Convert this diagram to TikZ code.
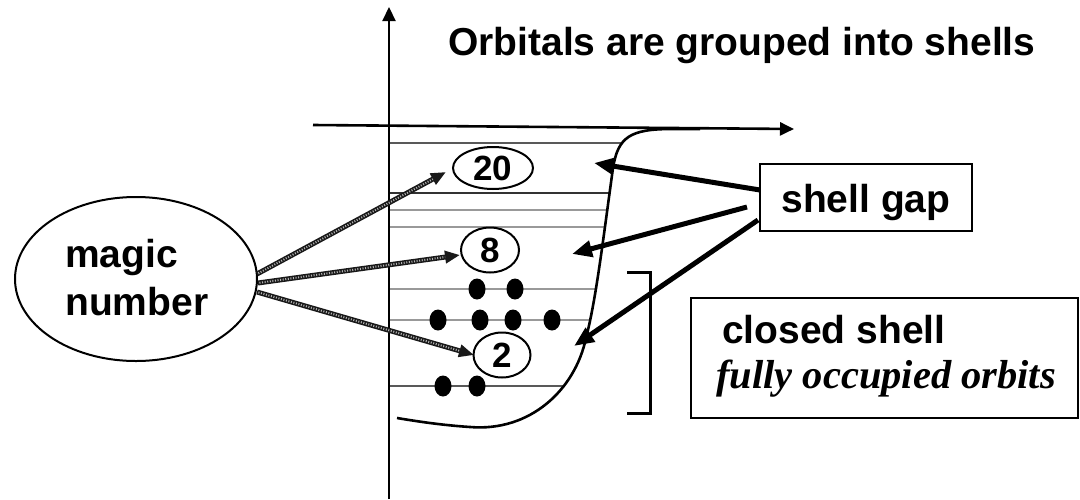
\documentclass[tikz,border=0pt]{standalone}
\usepackage{fontspec}
\setmainfont{Liberation Sans}
\newfontfamily\serifbi{Liberation Serif}
\usetikzlibrary{arrows.meta,shapes.geometric,calc}

\begin{document}
\begin{tikzpicture}[x=1pt,y=-1pt,
  lbl/.style={font=\fontsize{39}{48}\selectfont\bfseries, inner sep=0pt},
  numell/.style={ellipse, draw, line width=2pt, inner sep=0pt,
    font=\fontsize{35}{40}\selectfont\bfseries},
  dot/.style={fill=black},
  orbit/.style={draw=black!65, line width=1.6pt},
  orbitlight/.style={draw=black!40, line width=2.4pt},
  axis/.style={line width=2.2pt, -{Triangle[length=14pt,width=13pt]}},
  hatch/.style={line width=5pt, draw=black!90,
    -{Triangle[length=15pt,width=12pt]},
    postaction={draw=white!70!black, line width=2pt, dash pattern=on 1pt off 1.6pt,
      -, shorten >=15pt, shorten <=1.5pt}},
  gaparrow/.style={line width=5pt, -{Triangle[length=20pt,width=16pt]}},
  box/.style={draw, line width=1.6pt, inner sep=0pt}
]
\useasboundingbox (0,0) rectangle (1080,499);

% axes
\coordinate (ybot) at (389,499);
\coordinate (ytop) at (389,7);
\coordinate (xleft) at (313,125);
\coordinate (xright) at (794,129);
\draw[axis] (ybot) -- (ytop);
\draw[axis, line width=2.6pt] (xleft) -- (xright);

% potential well
\def\wellpath{(700,129) -- (672,129) .. controls (630,129) and (618,137) .. (613,168)
  .. controls (603,240) and (596,300) .. (586,338)
  .. controls (575,390) and (530,432) .. (470,427)
  .. controls (440,425) and (415,421) .. (397,418)}

% orbitals, clipped to the inside of the well
\begin{scope}
  \clip (389,129) -- \wellpath -- (389,440) -- cycle;
  \foreach \y in {143,386} \draw[orbit] (390,\y) -- (720,\y);
  \draw[orbit, draw=black!80] (390,193) -- (720,193);
  \foreach \y in {210,227,289,320} \draw[orbitlight] (390,\y) -- (720,\y);
\end{scope}
\draw[line width=2.6pt] \wellpath;

% occupied orbits
\foreach \x/\y in {477/289,515/289,438/320,480/320,513/320,552/320,443/386,477/386}
  \fill[dot] (\x,\y) ellipse [x radius=8.5, y radius=10.5];

% magic numbers
\node[numell, minimum width=80pt, minimum height=42pt] (n20) at (493,168) {20};
\node[numell, minimum width=58pt, minimum height=45pt] (n8) at (490,250) {8};
\node[numell, minimum width=57pt, minimum height=45pt] (n2) at (502,355) {2};

% bracket of the closed shell
\coordinate (bra) at (627,272);
\coordinate (brb) at (650,272);
\coordinate (brc) at (650,413);
\coordinate (brd) at (627,413);
\draw[line width=3pt] (bra) -- (brb) -- (brc) -- (brd);

% title
\node[lbl, anchor=base west] (title) at (448,55) {Orbitals are grouped into shells};

% magic number label
\node[ellipse, draw, line width=2pt, minimum width=242pt, minimum height=164pt,
  inner sep=0pt] (magic) at (136,279) {};
\node[lbl, align=left, anchor=base west] (magictxt) at (65,315) {magic\\number};

\coordinate (m1) at (257,274);
\coordinate (m2) at (258,283);
\coordinate (m3) at (257,292);
\coordinate (t20) at (446,172);
\coordinate (t8) at (460,255);
\coordinate (t2) at (474,355);
\draw[hatch] (m1) -- (t20);
\draw[hatch] (m2) -- (t8);
\draw[hatch] (m3) -- (t2);

% shell gap label
\node[box, minimum width=212pt, minimum height=67pt] (gap) at (866,197.5) {};
\node[lbl, anchor=base] (gaptxt) at (866,212) {shell gap};
\coordinate (g1) at (760,190);
\coordinate (g2) at (747,207);
\coordinate (g3) at (758,220);
\coordinate (w1) at (594,163);
\coordinate (w2) at (572,254);
\coordinate (w3) at (574,346);
\draw[gaparrow] (g1) -- (w1);
\draw[gaparrow] (g2) -- (w2);
\draw[gaparrow] (g3) -- (w3);

% closed shell label
\node[box, minimum width=387pt, minimum height=120pt] (closed) at (884.5,358) {};
\node[lbl, anchor=base west] (closedtxt) at (722,343) {closed shell};
\node[anchor=base west, inner sep=0pt,
  font=\serifbi\fontsize{40.5}{46}\selectfont\bfseries\itshape] (occ) at (716,388)
  {fully occupied orbits};
\end{tikzpicture}
\end{document}
